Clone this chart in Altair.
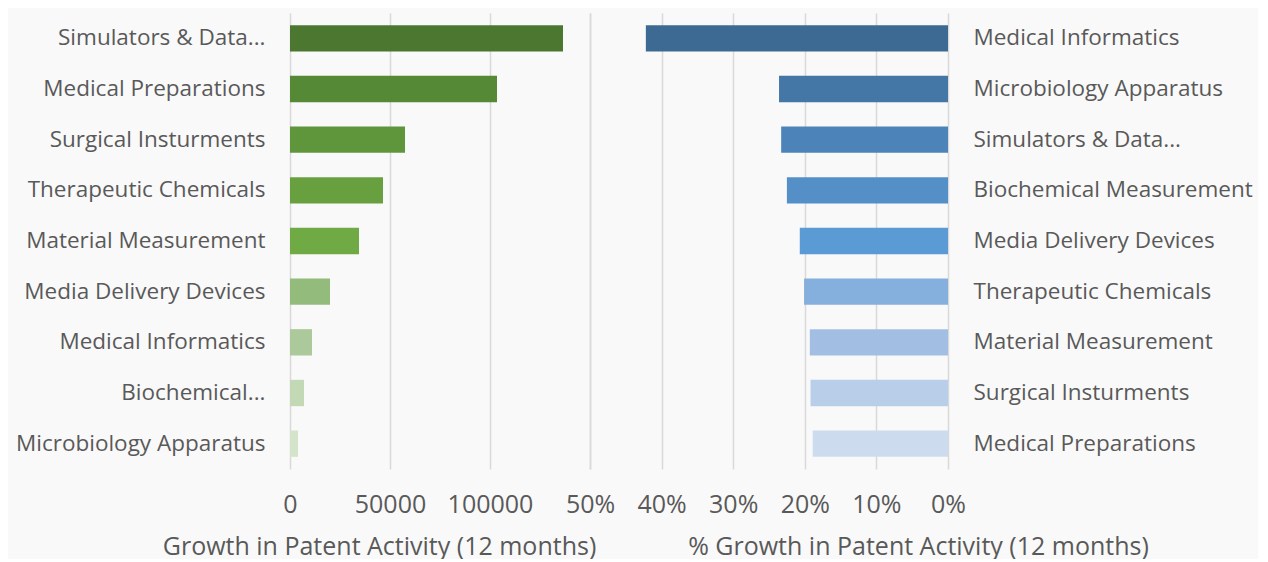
import altair as alt
import pandas as pd

left_cats = ["Simulators & Data...", "Medical Preparations", "Surgical Insturments",
             "Therapeutic Chemicals", "Material Measurement", "Media Delivery Devices",
             "Medical Informatics", "Biochemical...", "Microbiology Apparatus"]
left_vals = [136500, 103500, 57500, 46500, 34500, 20000, 11000, 7000, 4000]

right_cats = ["Medical Informatics", "Microbiology Apparatus", "Simulators & Data...",
              "Biochemical Measurement", "Media Delivery Devices", "Therapeutic Chemicals",
              "Material Measurement", "Surgical Insturments", "Medical Preparations"]
right_vals = [0.422, 0.236, 0.233, 0.225, 0.207, 0.201, 0.193, 0.192, 0.189]

left_x_ticks = [0, 50000, 100000, 150000]
right_x_ticks = [0, 0.1, 0.2, 0.3, 0.4, 0.5]

greens = ["#4b7730", "#558936", "#5f963b", "#68a040", "#70aa45",
          "#93bb7b", "#abc99b", "#c3d9b6", "#d4e4cb"]
blues = ["#3d6a93", "#4577a6", "#4c83b8", "#548fc7", "#5b9bd5",
         "#85afdc", "#a2bfe3", "#b9cee8", "#ccdcee"]

FONT = "Open Sans"
TXT = "#595959"
GRID = "#d9d9d9"

left_df = pd.DataFrame({"cat": left_cats, "val": left_vals})
right_df = pd.DataFrame({"cat": right_cats, "val": right_vals})

H = 456
YL = 22.5
XL = 25
TT = 25

left = alt.Chart(left_df).mark_bar().encode(
    y=alt.Y("cat:N", sort=left_cats,
            scale=alt.Scale(paddingInner=0.48, paddingOuter=0.24),
            axis=alt.Axis(title=None, labelLimit=400, labelPadding=25,
                          labelFontSize=YL, ticks=False, domain=False)),
    x=alt.X("val:Q", scale=alt.Scale(domain=[0, 150000], nice=False),
            axis=alt.Axis(values=left_x_ticks, format="d",
                          labelExpr="datum.value == 150000 ? '' : datum.label",
                          labelOverlap=False, labelFlush=False,
                          title="Growth in Patent Activity (12 months)",
                          titleX=89, titleY=65,
                          labelPadding=23, labelFontSize=XL, titleFontSize=TT,
                          ticks=False, domain=False)),
    color=alt.Color("cat:N", scale=alt.Scale(domain=left_cats, range=greens), legend=None),
).properties(width=300, height=H)

right = alt.Chart(right_df).mark_bar().encode(
    y=alt.Y("cat:N", sort=right_cats,
            scale=alt.Scale(paddingInner=0.48, paddingOuter=0.24),
            axis=alt.Axis(title=None, orient="right", labelLimit=400, labelPadding=25,
                          labelFontSize=YL, ticks=False, domain=False)),
    x=alt.X("val:Q", scale=alt.Scale(domain=[0, 0.5], reverse=True, nice=False),
            axis=alt.Axis(values=right_x_ticks, format=".0%",
                          labelOverlap=False, labelFlush=False,
                          title="% Growth in Patent Activity (12 months)",
                          titleX=328, titleY=65,
                          labelPadding=23, labelFontSize=XL, titleFontSize=TT,
                          ticks=False, domain=False)),
    color=alt.Color("cat:N", scale=alt.Scale(domain=right_cats, range=blues), legend=None),
).properties(width=358, height=H)

chart = alt.hconcat(left, right, spacing=0, bounds="flush").resolve_scale(
    color="independent", y="independent"
).configure(
    background="#f9f9f9", padding={"left": 7, "top": 5, "right": 5, "bottom": 0}
).configure_view(stroke=None).configure_axis(
    labelFont=FONT, titleFont=FONT, labelColor=TXT, titleColor=TXT,
    titleFontWeight="normal", gridColor=GRID, gridWidth=1.5
)

chart.save("out.html", embed_options={"renderer": "svg", "actions": False})
